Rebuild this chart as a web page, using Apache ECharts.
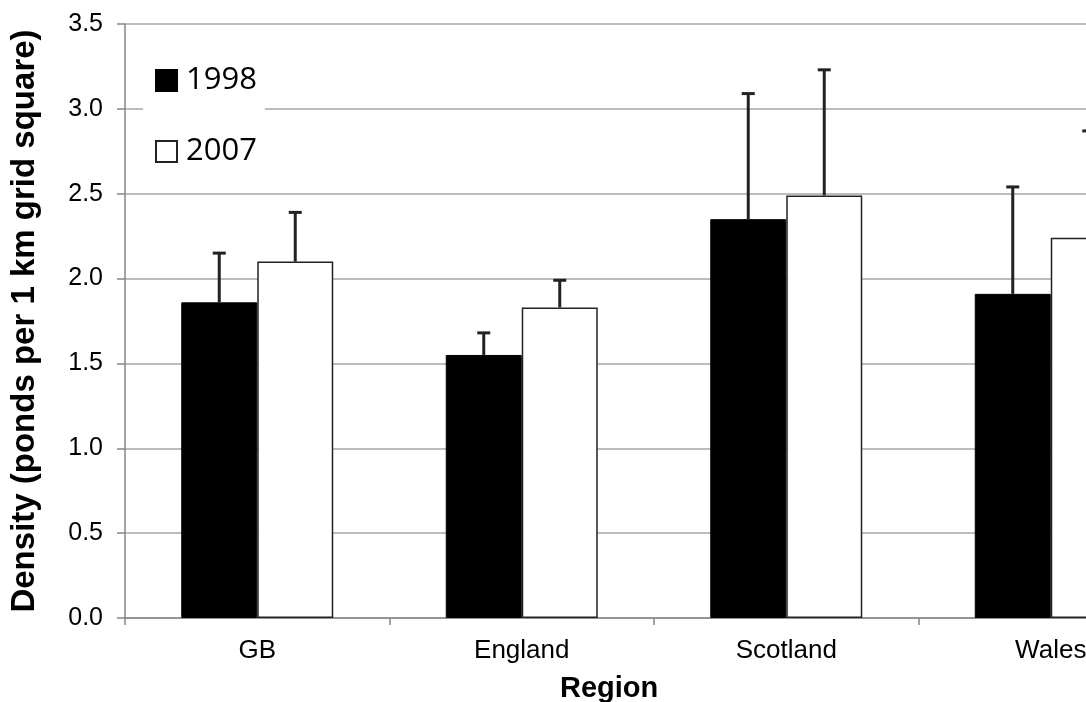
<!DOCTYPE html>
<html>
<head>
<meta charset="utf-8">
<script src="https://cdn.jsdelivr.net/npm/echarts@6/dist/echarts.min.js"></script>
<style>
  html, body { margin: 0; padding: 0; background: #fff; }
  #chart { width: 1086px; height: 702px; }
</style>
</head>
<body>
<div id="chart"></div>
<script>
// data
const regions = ['GB', 'England', 'Scotland', 'Wales'];
const years = ['1998', '2007'];
const density1998 = [1.86, 1.55, 2.35, 1.91];
const density2007 = [2.10, 1.83, 2.49, 2.24];
const err1998 = [0.29, 0.13, 0.74, 0.63];
const err2007 = [0.29, 0.16, 0.74, 0.63];
const yTicks = [0, 0.5, 1.0, 1.5, 2.0, 2.5, 3.0, 3.5];

const barW = 76;
const font = 'Liberation Sans, Arial, sans-serif';

const chart = echarts.init(document.getElementById('chart'));

// upward-only error bars, shifted onto each bar of the pair
function errorSeries(name, means, errs, shift) {
  return {
    name: name + ' err',
    type: 'custom',
    z: 5,
    data: means.map((m, i) => [i, m, m + errs[i]]),
    encode: { x: 0, y: [1, 2] },
    renderItem: function (params, api) {
      const base = api.coord([api.value(0), api.value(1)]);
      const top = api.coord([api.value(0), api.value(2)]);
      const x = base[0] + shift;
      const cap = 6.5;
      return {
        type: 'group',
        children: [
          { type: 'line', shape: { x1: x, y1: base[1], x2: x, y2: top[1] },
            style: { stroke: '#222', lineWidth: 3 } },
          { type: 'line', shape: { x1: x - cap, y1: top[1], x2: x + cap, y2: top[1] },
            style: { stroke: '#222', lineWidth: 3 } }
        ]
      };
    }
  };
}

const option = {
  backgroundColor: '#fff',
  animation: false,
  // the original plot runs past the right edge of the picture
  grid: { left: 125, top: 24, width: 1058, height: 594, outerBoundsMode: 'none' },
  legend: {
    data: years,
    orient: 'vertical',
    left: 143,
    top: 55,
    padding: [10, 8, 10, 12],
    backgroundColor: '#fff',
    icon: 'rect',
    itemWidth: 21,
    itemHeight: 21,
    itemGap: 40,
    textStyle: { fontFamily: 'Open Sans', fontSize: 31, color: '#000', lineHeight: 21, padding: [0, 0, 0, 4] }
  },
  xAxis: {
    type: 'category',
    data: regions,
    axisLine: { lineStyle: { color: '#868686', width: 1.5 } },
    axisTick: { show: true, length: 7, lineStyle: { color: '#868686', width: 1.5 } },
    axisLabel: { fontFamily: font, fontSize: 26, color: '#000', margin: 20 }
  },
  yAxis: {
    type: 'value',
    min: 0,
    max: 3.5,
    interval: 0.5,
    name: 'Density (ponds per 1 km grid square)',
    nameLocation: 'middle',
    nameGap: 84,
    nameTextStyle: { fontFamily: font, fontSize: 33, fontWeight: 'bold', color: '#000' },
    axisLine: { show: true, lineStyle: { color: '#868686', width: 1.5 } },
    axisTick: { show: true, length: 8, lineStyle: { color: '#868686', width: 1.5 } },
    axisLabel: {
      fontFamily: font, fontSize: 25, color: '#000', margin: 22,
      formatter: v => yTicks.includes(v) ? v.toFixed(1) : ''
    },
    splitLine: { lineStyle: { color: '#a6a6a6', width: 1.5 } }
  },
  graphic: [{
    type: 'text',
    left: 560,
    top: 674,
    style: { text: 'Region', fontFamily: font, fontSize: 29, fontWeight: 'bold', fill: '#000' }
  }],
  series: [
    {
      name: '1998',
      type: 'bar',
      data: density1998,
      barWidth: barW,
      barGap: '0%',
      itemStyle: { color: '#000', borderColor: '#000', borderWidth: 1 }
    },
    {
      name: '2007',
      type: 'bar',
      data: density2007,
      barWidth: barW,
      barGap: '0%',
      itemStyle: { color: '#fff', borderColor: '#222', borderWidth: 1.5 }
    },
    errorSeries('1998', density1998, err1998, -barW / 2),
    errorSeries('2007', density2007, err2007, barW / 2)
  ]
};

chart.setOption(option);
</script>
</body>
</html>
